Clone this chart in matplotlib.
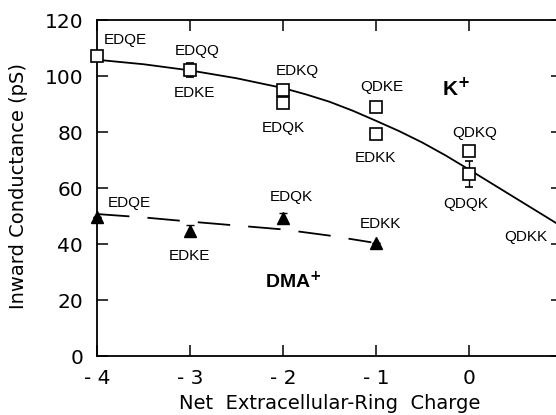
import matplotlib
matplotlib.use("Agg")
import matplotlib.pyplot as plt

# K+ conductances (open squares)
k_x = [-4, -3, -2, -2, -1, -1, 0, 0]
k_y = [107.0, 102.0, 95.0, 90.3, 89.0, 79.3, 73.3, 65.0]
k_err = [0, 2.5, 0, 0, 0, 0, 0, 4.6]

# fitted curve through K+
k_fit_x = [-4, -3.5, -3, -2.5, -2, -1.75, -1.5, -1.25, -1, -0.75, -0.5,
           -0.25, 0, 0.25, 0.5, 0.75, 1]
k_fit_y = [105.8, 104.2, 102.0, 99.2, 95.7, 93.4, 90.8, 87.6, 84.0, 80.3,
           76.2, 71.6, 66.6, 61.5, 56.4, 51.3, 46.2]

# DMA+ conductances (filled triangles)
dma_x = [-4, -3, -2, -1]
dma_y = [49.5, 44.8, 49.3, 40.4]
dma_err = [0, 2.0, 1.7, 0]
dma_names = ["EDQE", "EDKE", "EDQK", "EDKK"]

dma_fit_x = [-4, -3.5, -3, -2.5, -2, -1.5, -1.05]
dma_fit_y = [50.7, 49.5, 48.0, 46.6, 45.2, 43.0, 40.6]

# label anchors (left edge, vertical centre) in data units
k_label_xy = [(-3.925, 112.9), (-3.16, 109.0), (-3.18, 94.0), (-2.08, 101.8),
              (-2.23, 81.4), (-1.17, 96.0), (-1.23, 70.7), (-0.18, 79.6),
              (-0.28, 54.3), (0.376, 42.5)]
k_label_txt = ["EDQE", "EDQQ", "EDKE", "EDKQ", "EDQK", "QDKE", "EDKK",
               "QDKQ", "QDQK", "QDKK"]
dma_label_xy = [(-3.88, 54.6), (-3.23, 35.7), (-2.14, 56.8), (-1.17, 47.0)]

x_ticks = [-4, -3, -2, -1, 0, 1]
x_tick_labels = ["- 4", "- 3", "- 2", "- 1", "0", "1"]
y_ticks = [0, 20, 40, 60, 80, 100, 120]

plt.rcParams['font.family'] = ['DejaVu Sans']
small_font = ['Liberation Sans', 'DejaVu Sans']

fig = plt.figure(figsize=(5.56, 4.15), dpi=100)
ax = fig.add_axes([97 / 556, 1 - 356 / 415, (562 - 97) / 556, (356 - 20) / 415])

ax.plot(k_fit_x, k_fit_y, color='black', lw=1.3, zorder=2)
ax.plot(dma_fit_x, dma_fit_y, color='black', lw=1.3, dashes=(18, 10), zorder=2)

ax.errorbar(k_x, k_y, yerr=k_err, fmt='s', ms=8, mfc='white', mec='black',
            mew=1.2, ecolor='black', elinewidth=1.0, capsize=3, zorder=3,
            clip_on=False)
ax.errorbar(dma_x, dma_y, yerr=dma_err, fmt='^', ms=8, mfc='black', mec='black',
            ecolor='black', elinewidth=1.0, capsize=3, zorder=3, clip_on=False)

for (tx, ty), t in zip(k_label_xy, k_label_txt):
    ax.text(tx, ty, t, family=small_font, fontsize=11, ha='left', va='center')
for (tx, ty), t in zip(dma_label_xy, dma_names):
    ax.text(tx, ty, t, family=small_font, fontsize=11, ha='left', va='center')

ax.text(-0.29, 95.4, r"K$^\mathbf{+}$", family=small_font, fontsize=15,
        fontweight='bold', ha='left', va='center')
ax.text(-2.19, 26.4, r"DMA$^\mathbf{+}$", family=small_font, fontsize=14,
        fontweight='bold', ha='left', va='center')

ax.set_xlim(-4, 1)
ax.set_ylim(0, 120)
ax.set_xticks(x_ticks)
ax.set_xticklabels(x_tick_labels)
ax.set_yticks(y_ticks)
ax.tick_params(direction='in', length=8, width=1.1, labelsize=14.5,
               top=True, right=True)
ax.tick_params(axis='y', pad=10)
ax.tick_params(axis='x', pad=9)
for sp in ax.spines.values():
    sp.set_linewidth(1.3)

ax.set_xlabel("Net  Extracellular-Ring  Charge", fontsize=14)
ax.set_ylabel("Inward Conductance (pS)", fontsize=14)
ax.xaxis.set_label_coords(0.5, -0.113)
ax.yaxis.set_label_coords(-0.148, 0.505)

fig.savefig("out.png", dpi=100)
